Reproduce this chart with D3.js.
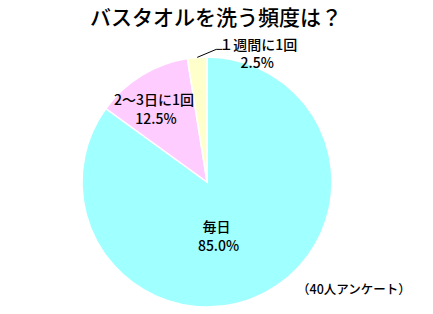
<!DOCTYPE html>
<html>
<head>
<meta charset="utf-8">
<script src="https://cdn.jsdelivr.net/npm/d3@7"></script>
<style>
  body { margin: 0; background: #fff; }
  svg { display: block; font-family: "Noto Sans CJK JP", sans-serif; }
</style>
</head>
<body>
<div id="chart"></div>
<script>
// data
const categories = ['毎日', '2〜3日に1回', '１週間に1回'];
const values = [85.0, 12.5, 2.5];
const colors = ['#a0ffff', '#ffccff', '#ffffcc'];
const title = 'バスタオルを洗う頻度は？';
const note = '（40人アンケート）';

const width = 433, height = 314;
const cx = 207, cy = 182, radius = 125;

const svg = d3.select('#chart').append('svg')
    .attr('width', width)
    .attr('height', height);

svg.append('text')
    .attr('x', 216).attr('y', 25)
    .attr('text-anchor', 'middle')
    .style('font-size', '21px')
    .style('font-weight', 500)
    .text(title);

const data = categories.map((c, i) => ({ name: c, value: values[i], color: colors[i] }));

// clockwise from 12 o'clock, in given order
const pie = d3.pie().value(d => d.value).sort(null);
const arc = d3.arc().innerRadius(0).outerRadius(radius);
const arcs = pie(data);

const g = svg.append('g').attr('transform', `translate(${cx},${cy})`);

g.selectAll('path').data(arcs).join('path')
    .attr('d', arc)
    .attr('fill', d => d.data.color)
    .attr('stroke', '#fff')
    .attr('stroke-width', 1.5);

// label placement: [label radius factor, dx, dy] per slice
const labelPos = [[0.45, -16, 0], [0.72, -6, 0], [null, 0, 0]];

arcs.forEach((d, i) => {
    const lp = labelPos[i];
    let x, y;
    if (lp[0] !== null) {
        const c = d3.arc().innerRadius(radius * lp[0]).outerRadius(radius * lp[0]).centroid(d);
        x = c[0] + lp[1];
        y = c[1] + lp[2];
        const t = g.append('text')
            .attr('text-anchor', 'middle')
            .style('font-size', '14px')
            .style('font-weight', 500);
        t.append('tspan').attr('x', x).attr('y', y).text(d.data.name);
        t.append('tspan').attr('x', x + 2).attr('y', y + 19).text(d.data.value.toFixed(1) + '%');
    } else {
        // small slice: leader line out to the label
        const mid = (d.startAngle + d.endAngle) / 2;
        const p0 = [radius * Math.sin(mid), -radius * Math.cos(mid)];
        const p1 = [p0[0] + 19, p0[1] - 8];
        const p2 = [p1[0] + 6, p1[1]];
        g.append('polyline')
            .attr('points', [p0, p1, p2].map(p => p.join(',')).join(' '))
            .attr('fill', 'none')
            .attr('stroke', '#000')
            .attr('stroke-width', 1);
        const t = g.append('text')
            .attr('text-anchor', 'middle')
            .style('font-size', '14px')
            .style('font-weight', 500);
        t.append('tspan').attr('x', p2[0] + 36).attr('y', p2[1] + 1).text(d.data.name);
        t.append('tspan').attr('x', p2[0] + 35).attr('y', p2[1] + 19).text(d.data.value.toFixed(1) + '%');
    }
});

svg.append('text')
    .attr('x', 354).attr('y', 294)
    .attr('text-anchor', 'middle')
    .style('font-size', '12.5px')
    .style('font-weight', 500)
    .text(note);
</script>
</body>
</html>
